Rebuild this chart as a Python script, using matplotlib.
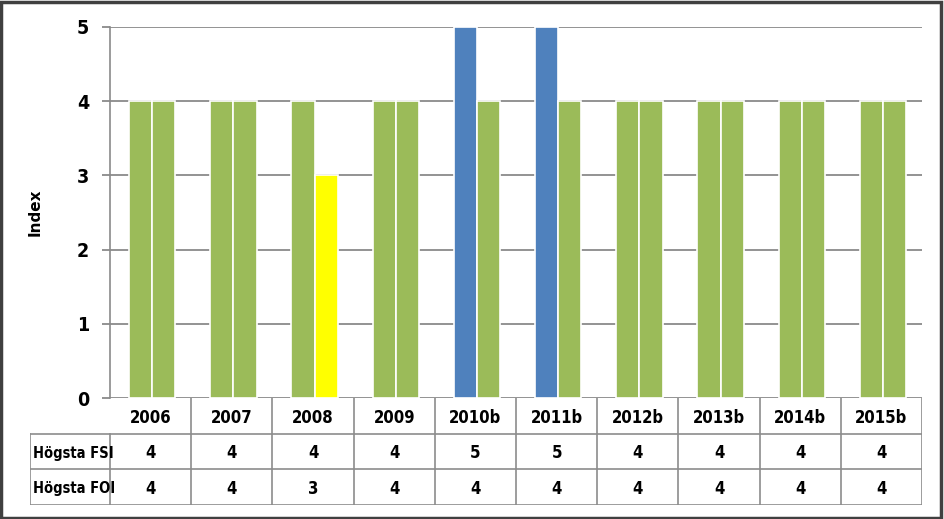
import matplotlib.pyplot as plt
import numpy as np
from matplotlib.patches import Rectangle

years = ['2006', '2007', '2008', '2009', '2010b', '2011b', '2012b', '2013b', '2014b', '2015b']
fsi = [4, 4, 4, 4, 5, 5, 4, 4, 4, 4]
foi = [4, 4, 3, 4, 4, 4, 4, 4, 4, 4]
row_labels = ['Högsta FSI', 'Högsta FOI']

# färg efter indexvärde
value_colors = {3: '#FFFF00', 4: '#9BBB59', 5: '#4F81BD'}

plt.rcParams['font.family'] = ['DejaVu Sans']
plt.rcParams['font.stretch'] = 'condensed'
plt.rcParams['font.weight'] = 'bold'

W, H = 944, 519
fig = plt.figure(figsize=(W / 100, H / 100), dpi=100)

# yttre ram
fig.patches.append(Rectangle((0.0015, 0.002), 0.995, 0.994, transform=fig.transFigure,
                             fill=False, edgecolor='#404040', linewidth=2.5))

x0, x1 = 110, 922
y_top, y_zero = 27, 398
ax = fig.add_axes([x0 / W, 1 - y_zero / H, (x1 - x0) / W, (y_zero - y_top) / H])

x = np.arange(len(years))
bw = 0.285
ax.bar(x - bw / 2 + 0.02, fsi, bw, color=[value_colors[v] for v in fsi],
       edgecolor='white', linewidth=1.2, zorder=3)
ax.bar(x + bw / 2 + 0.02, foi, bw, color=[value_colors[v] for v in foi],
       edgecolor='white', linewidth=1.2, zorder=3)

ax.set_xlim(-0.5, len(years) - 0.5)
ax.set_ylim(0, 5)
ax.set_yticks(range(6))
ax.set_xticks([])
ax.grid(axis='y', color='#8a8a8a', linewidth=1.3, zorder=1)
for s in ['top', 'right', 'bottom']:
    ax.spines[s].set_visible(False)
ax.spines['left'].set_color('#8a8a8a')
ax.spines['left'].set_linewidth(1.2)
ax.tick_params(axis='y', length=6, width=1.3, color='#8a8a8a', labelsize=14, pad=9)
for lab in ax.get_yticklabels():
    lab.set_fontweight('bold')
ax.set_ylabel('Index', fontsize=11, fontweight='bold', fontstretch='normal')
ax.yaxis.set_label_coords((43 - x0) / (x1 - x0), 0.5)

# datatabell under diagrammet
tx0, ty0, ty1 = 30, 505, 398
unit = (x1 - x0) / len(years)
tax = fig.add_axes([tx0 / W, 1 - ty0 / H, (x1 - tx0) / W, (ty0 - ty1) / H])
tax.set_xlim(-0.5 - (x0 - tx0) / unit, len(years) - 0.5)
tax.set_ylim(0, 3)
tax.axis('off')
lc = '#8c8c8c'
left = -0.5 - (x0 - tx0) / unit
right = len(years) - 0.5
for yy in [0, 1, 2]:
    tax.plot([left, right], [yy, yy], color=lc, lw=1.2)
tax.plot([left, left], [0, 2], color=lc, lw=1.2)
for i in range(len(years) + 1):
    tax.plot([i - 0.5, i - 0.5], [0, 3 if i > 0 else 2], color=lc, lw=1.2)
for i, yr in enumerate(years):
    tax.text(i, 2.45, yr, ha='center', va='center', fontsize=12, fontweight='bold')
    tax.text(i, 1.45, str(fsi[i]), ha='center', va='center', fontsize=12, fontweight='bold')
    tax.text(i, 0.45, str(foi[i]), ha='center', va='center', fontsize=12, fontweight='bold')
for j, lab in enumerate(row_labels):
    tax.text(left + 0.04, 1.45 - j, lab, ha='left', va='center', fontsize=10.5, fontweight='bold')

fig.savefig('out.png', dpi=100)
